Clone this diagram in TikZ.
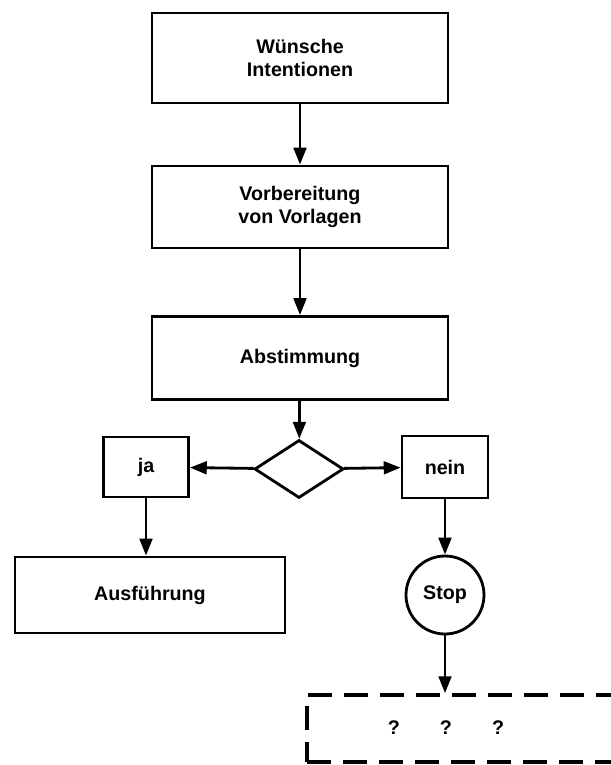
\documentclass[tikz,border=0pt]{standalone}
\usepackage{fontspec}
\setmainfont{Liberation Sans}
\usetikzlibrary{arrows.meta,shapes.geometric}

\begin{document}
\begin{tikzpicture}[font=\fontsize{14}{16}\selectfont\bfseries,
                line width=2pt,
                pfeil/.style={-{Triangle[length=12pt,width=9pt]}},
                kasten/.style={draw, rectangle, align=center, inner sep=0pt},
                raute/.style={draw, diamond, inner sep=0pt, minimum width=2.225cm, minimum height=1.45cm},
                kreis/.style={draw, circle, inner sep=0pt, minimum size=1.95cm},
                offenkasten/.style={draw, rectangle, line width=2.6pt, dash pattern=on 0.6cm off 0.3cm}]
                \clip (0,0) rectangle (15.275,-19.125);
                \useasboundingbox (0,0) rectangle (15.275,-19.125);
                % Hauptkette
                \node [kasten, minimum width=7.4cm, minimum height=2.25cm] (wuensche) at (7.5,-1.45) {W\"unsche\\Intentionen};
                \node [kasten, minimum width=7.4cm, minimum height=2.05cm] (vorlagen) at (7.5,-5.175) {Vorbereitung\\von Vorlagen};
                \node [kasten, minimum width=7.4cm, minimum height=2.075cm] (abstimmung) at (7.5,-8.95) {Abstimmung};
                \node [raute] (entscheid) at (7.475,-11.725) {};
                % Verzweigung
                \node [kasten, minimum width=2.125cm, minimum height=1.5cm] (ja) at (3.65,-11.675) {ja};
                \node [kasten, minimum width=2.15cm, minimum height=1.55cm] (nein) at (11.125,-11.675) {nein};
                \node [kasten, minimum width=6.75cm, minimum height=1.9cm] (ausfuehrung) at (3.75,-14.875) {Ausf\"uhrung};
                \node [kreis] (stop) at (11.125,-14.875) {Stop};
                \node [offenkasten, minimum width=9.825cm, minimum height=1.675cm] (offen) at (12.5875,-18.2125) {};
                \node (fragen) at (11.15,-18.2) {?\hspace{1.0cm}?\hspace{1.0cm}?};
                % Verbindungen
                \draw [pfeil] (wuensche) -- (vorlagen);
                \draw [pfeil] (vorlagen) -- (abstimmung);
                \draw [pfeil] (abstimmung) -- (entscheid);
                \draw [pfeil] (entscheid) -- (ja);
                \draw [pfeil] (entscheid) -- (nein);
                \draw [pfeil] (ja) -- (ja |- ausfuehrung.north);
                \draw [pfeil] (nein) -- (stop);
                \draw [pfeil] (stop) -- (stop |- offen.north);
              \end{tikzpicture}
\end{document}
